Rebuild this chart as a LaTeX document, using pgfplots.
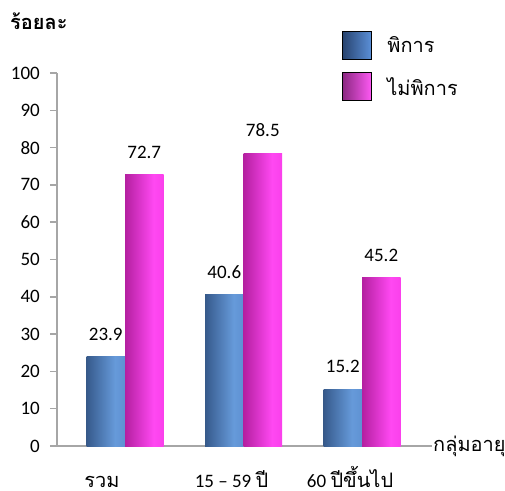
\documentclass[border=0pt]{standalone}
\usepackage{pgfplots}
\pgfplotsset{compat=1.18}
\usepackage{fontspec}
\setmainfont{Carlito}
\newfontfamily\thai[Script=Thai, Scale=1.05]{Loma}

\definecolor{axisgray}{RGB}{166,166,166}
\definecolor{legB1}{RGB}{40,68,112}
\definecolor{legB2}{RGB}{92,145,218}
\definecolor{legM1}{RGB}{140,40,130}
\definecolor{legM2}{RGB}{255,90,245}
\definecolor{b0}{RGB}{26,40,64}
\definecolor{b1}{RGB}{58,95,146}
\definecolor{b2}{RGB}{102,154,218}
\definecolor{b3}{RGB}{80,128,194}
\definecolor{m0}{RGB}{80,16,74}
\definecolor{m1}{RGB}{180,32,160}
\definecolor{m2}{RGB}{255,72,242}
\definecolor{m3}{RGB}{240,48,222}

\pgfdeclarehorizontalshading{blueBar}{100bp}{
	color(0bp)=(b0); color(28bp)=(b1); color(62bp)=(b2); color(100bp)=(b3)}
\pgfdeclarehorizontalshading{magBar}{100bp}{
	color(0bp)=(m0); color(25bp)=(m1); color(62bp)=(m2); color(100bp)=(m3)}

\pgfplotsset{
	bluebar/.style={ybar, bar width=38.5bp, bar shift=-19.25bp, draw=none, shade, shading=blueBar, forget plot,
		every node near coord/.append style={xshift=-19.25bp}},
	magbar/.style={ybar, bar width=38.5bp, bar shift=19.25bp, draw=none, shade, shading=magBar, forget plot,
		every node near coord/.append style={xshift=19.25bp}},
}

\begin{document}
\begin{tikzpicture}[font=\fontsize{19bp}{23bp}\selectfont]
\useasboundingbox (-57bp,-45bp) rectangle (448bp,446bp);
\begin{axis}[
	scale only axis,
	width=375bp, height=373bp,
	xmin=-0.574, xmax=2.59,
	ymin=0, ymax=100,
	axis lines*=left,
	axis line style={axisgray, line width=1.5bp},
	ytick={0,10,...,100},
	xtick={0,1,2},
	xticklabels={{\kern-22bp\thai รวม}, {15 – 59 {\thai ปี}}, {60 {\thai ปีขึ้นไป}}},
	x tick style={draw=none},
	y tick style={axisgray, line width=1.5bp},
	tick align=outside,
	major tick length=7bp,
	yticklabel style={anchor=east, inner sep=0pt, xshift=-10bp},
	xticklabel style={anchor=base, inner sep=0pt, yshift=-34bp, xshift=-12bp},
	/pgf/number format/assume math mode=true,
	nodes near coords,
	every node near coord/.append style={anchor=south, inner sep=0pt, yshift=16bp, black},
	clip=false,
	xlabel={\thai กลุ่มอายุ},
	xlabel style={at={(axis description cs:1,0)}, anchor=west, inner sep=0pt, xshift=1bp},
	ylabel={\thai\bfseries ร้อยละ},
	ylabel style={rotate=-90, at={(axis description cs:0,1)}, anchor=south west, inner sep=0pt, xshift=-47bp, yshift=43bp},
	legend style={draw=none, fill=none, at={(0.76,1.113)}, anchor=north west,
		inner sep=0pt, row sep=12bp, column sep=15bp,
		nodes={inner sep=0pt}},
	legend cell align=left,
]
% disabled
\addplot[bluebar] coordinates {(0,23.9)};
\addplot[bluebar] coordinates {(1,40.6)};
\addplot[bluebar] coordinates {(2,15.2)};
% not disabled
\addplot[magbar] coordinates {(0,72.7)};
\addplot[magbar] coordinates {(1,78.5)};
\addplot[magbar] coordinates {(2,45.2)};

\addlegendimage{legend image code/.code={\draw[black, line width=1.2bp, left color=legB1, right color=legB2] (0bp,-14bp) rectangle (29bp,14bp);}}
\addlegendentry{\thai พิการ}
\addlegendimage{legend image code/.code={\draw[black, line width=1.2bp, left color=legM1, right color=legM2] (0bp,-14bp) rectangle (29bp,14bp);}}
\addlegendentry{\thai ไม่พิการ}
\end{axis}
\end{tikzpicture}
\end{document}
